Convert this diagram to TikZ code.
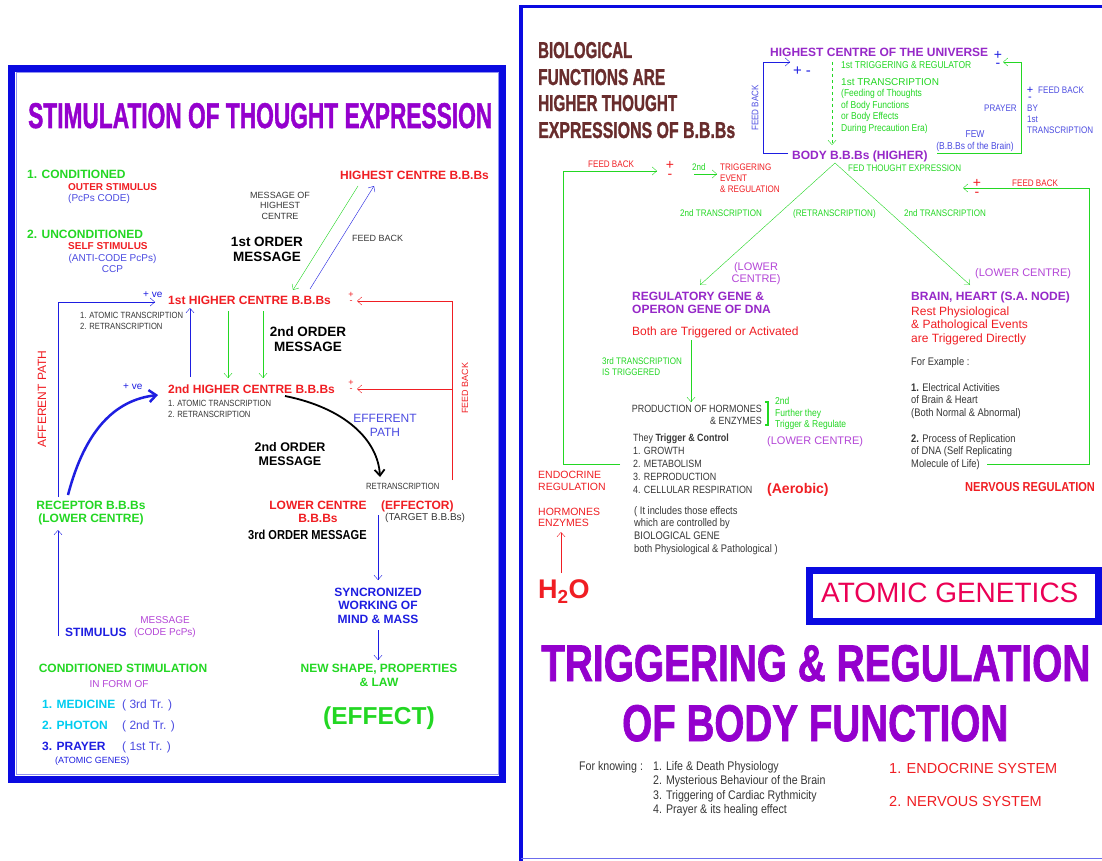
\documentclass[tikz,border=0pt]{standalone}
\usepackage{fontspec}
\usepackage{graphicx}
\setmainfont{Liberation Sans}
\newfontfamily\condfont[FakeStretch=0.85]{Liberation Sans}
\newfontfamily\heavyfont[FakeBold=1.6]{Liberation Sans}
\usetikzlibrary{arrows.meta}
\definecolor{tpurple}{RGB}{148,0,205}
\definecolor{lpurple}{RGB}{150,40,200}
\definecolor{mpurple}{RGB}{180,70,215}
\definecolor{tred}{RGB}{240,30,35}
\definecolor{tgreen}{RGB}{35,215,35}
\definecolor{tblue}{RGB}{30,30,225}
\definecolor{lblue}{RGB}{75,75,225}
\definecolor{tcyan}{RGB}{0,205,240}
\definecolor{tgray}{RGB}{55,55,55}
\definecolor{tbrown}{RGB}{105,45,45}
\definecolor{tpink}{RGB}{235,0,85}
\definecolor{fblue}{RGB}{10,10,225}
\newcommand{\fsz}[2]{\fontsize{#1}{#2}\selectfont}
\newcommand{\fitto}[3]{\resizebox{#1pt}{#2pt}{\heavyfont\bfseries #3}}
\tikzset{
  every node/.style={inner sep=0pt},
  arr/.style={-{Straight Barb[length=4.5pt,width=8pt]}},
  bl/.style={font=\fsz{12}{13.5}\bfseries},
  sm/.style={font=\fsz{9}{10.5}},
  smc/.style={font=\condfont\fsz{9}{11}},
  rc/.style={font=\condfont\fsz{9.5}{11}},
  gc/.style={font=\condfont\fsz{10.5}{13}, text=tgray},
  pm/.style={align=center, anchor=base, font=\fsz{14}{9}},
  pms/.style={align=center, anchor=base, font=\fsz{9}{6}}
}
\begin{document}
\begin{tikzpicture}[x=1pt,y=-1pt]
\useasboundingbox (0,0) rectangle (1102,861);
\fill[white] (0,0) rectangle (1102,861);

\draw[fblue, line width=7] (11.5,68.5) rectangle (502.5,779);
\draw[fblue!45, line width=1] (16,73) rectangle (498,774.5);
\node[anchor=base west, text=tpurple] (title) at (28,128) {\fitto{464}{25}{STIMULATION OF THOUGHT EXPRESSION}};

\node[bl, anchor=base west, text=tgreen] (cond) at (27,178.3) {1. CONDITIONED};
\node[anchor=base west, text=tred, font=\fsz{10}{12}\bfseries] (outer) at (68,190.6) {OUTER STIMULUS};
\node[anchor=base west, text=lblue, font=\fsz{10}{12}] (pcps) at (68,201.6) {(PcPs CODE)};
\node[bl, anchor=base west, text=tgreen] (uncond) at (27,238.3) {2. UNCONDITIONED};
\node[anchor=base west, text=tred, font=\fsz{10}{12}\bfseries] (self) at (68,249.6) {SELF STIMULUS};
\node[anchor=base, align=center, text=lblue, font=\fsz{10}{11}] (anti) at (112.5,272.6) {(ANTI-CODE PcPs)\\CCP};

\node[bl, anchor=base west, text=tred] (highest) at (340,179.3) {HIGHEST CENTRE B.B.Bs};
\node[sm, anchor=base, align=center, text=tgray] (mohc) at (280,219.2) {MESSAGE OF\\HIGHEST\\CENTRE};
\node[anchor=base, align=center, font=\fsz{13.5}{15}\bfseries] (ord1) at (267,261.8) {1st ORDER\\MESSAGE};
\node[sm, anchor=base west, text=tgray] (fb1) at (352,241.2) {FEED BACK};
\coordinate (hcL) at (358,186);
\coordinate (hcR) at (374,186);
\coordinate (hc1L) at (293,290);
\coordinate (hc1R) at (310,289);
\draw[tgreen, arr] (hcL) -- (hc1L);
\draw[tblue, arr] (hc1R) -- (hcR);

\node[bl, anchor=base west, text=tred] (hc1) at (168,304.3) {1st HIGHER CENTRE B.B.Bs};
\node[anchor=base west, text=tblue, font=\fsz{10}{12}] (ve1) at (143,297.6) {+ ve};
\node[smc, anchor=base west, align=left, text=tgray] (at1) at (80,329.2) {1. ATOMIC TRANSCRIPTION\\2. RETRANSCRIPTION};
\node[pms, text=tred] (pm1) at (351,303) {+\\-};
\coordinate (upA) at (190,377);
\coordinate (upB) at (190,308);
\coordinate (dnA) at (228,311);
\coordinate (dnB) at (228,378);
\coordinate (dnC) at (263,311);
\coordinate (dnD) at (263,378);
\draw[tblue, arr] (upA) -- (upB);
\draw[tgreen, arr] (dnA) -- (dnB);
\draw[tgreen, arr] (dnC) -- (dnD);
\node[anchor=base, align=center, font=\fsz{13.5}{15}\bfseries] (ord2) at (308,351.8) {2nd ORDER\\MESSAGE};

\node[bl, anchor=base west, text=tred] (hc2) at (168,393.3) {2nd HIGHER CENTRE B.B.Bs};
\node[anchor=base west, text=tblue, font=\fsz{10}{12}] (ve2) at (123,389.6) {+ ve};
\node[smc, anchor=base west, align=left, text=tgray] (at2) at (168,417.2) {1. ATOMIC TRANSCRIPTION\\2. RETRANSCRIPTION};
\node[pms, text=tred] (pm2) at (351,391) {+\\-};

\coordinate (fbBot) at (452,480);
\coordinate (fbTop) at (452,301);
\coordinate (fbIn1) at (357,301);
\coordinate (fbMid) at (452,389);
\coordinate (fbIn2) at (357,389);
\draw[tred, arr] (fbBot) -- (fbTop) -- (fbIn1);
\draw[tred, arr] (fbMid) -- (fbIn2);
\node[sm, rotate=90, text=tred] (fbv) at (465,388) {FEED BACK};
\node[rotate=90, text=tred, font=\fsz{12}{14}] (aff) at (42,399) {AFFERENT PATH};

\coordinate (afBot) at (58,497);
\coordinate (afTop) at (58,302);
\coordinate (afEnd) at (155,302);
\draw[tblue, arr] (afBot) -- (afTop) -- (afEnd);
\coordinate (rcCurve) at (68,495);
\coordinate (hc2In) at (158,395);
\draw[tblue, line width=2.5, -{Straight Barb[length=7pt,width=12pt]}] (rcCurve) .. controls (85,430) and (115,400) .. (hc2In);
\coordinate (hc2Out) at (285,396);
\coordinate (effIn) at (380,477);
\draw[black, line width=1.8, -{Straight Barb[length=6pt,width=10pt]}] (hc2Out) .. controls (345,408) and (378,440) .. (effIn);
\node[anchor=base, align=center, text=lblue, font=\fsz{12}{14}] (effp) at (385,436.3) {EFFERENT\\PATH};
\node[anchor=base, align=center, font=\fsz{12.5}{14}\bfseries] (ord2b) at (290,465.5) {2nd ORDER\\MESSAGE};
\node[smc, anchor=base west, text=tgray] (retr) at (366,489.2) {RETRANSCRIPTION};

\node[bl, anchor=base, align=center, text=tgreen] (recep) at (91,522.8) {RECEPTOR B.B.Bs\\(LOWER CENTRE)};
\node[bl, anchor=base, align=center, text=tred] (lower) at (318,522.8) {LOWER CENTRE\\B.B.Bs};
\node[bl, anchor=base west, text=tred] (effector) at (381,509.3) {(EFFECTOR)};
\node[anchor=base west, text=tgray, font=\fsz{10}{12}] (target) at (385,520.6) {(TARGET B.B.Bs)};
\node[anchor=base west, font=\condfont\fsz{13}{15}\bfseries] (ord3) at (248,539.7) {3rd ORDER MESSAGE};
\coordinate (effA) at (378,515);
\coordinate (effB) at (378,580);
\coordinate (synA) at (378,630);
\coordinate (synB) at (378,660);
\draw[tblue, arr] (effA) -- (effB);
\draw[tblue, arr] (synA) -- (synB);
\node[bl, anchor=base, align=center, text=tblue] (sync) at (378,623.3) {SYNCRONIZED\\WORKING OF\\MIND \& MASS};
\node[bl, anchor=base, align=center, text=tgreen, font=\fsz{12}{14}\bfseries] (newshape) at (379,686.3) {NEW SHAPE, PROPERTIES\\\& LAW};
\node[anchor=base, text=tgreen, font=\fsz{24.5}{28}\bfseries] (effect) at (379,724.8) {(EFFECT)};

\coordinate (stA) at (58,636);
\coordinate (stB) at (58,530);
\draw[tblue, arr] (stA) -- (stB);
\node[bl, anchor=base west, text=tblue] (stim) at (65,636.3) {STIMULUS};
\node[anchor=base, align=center, text=mpurple, font=\fsz{10}{12}] (msgcode) at (165,635.6) {MESSAGE\\(CODE PcPs)};
\node[bl, anchor=base, text=tgreen] (cstim) at (123,672.3) {CONDITIONED STIMULATION};
\node[anchor=base, text=mpurple, font=\fsz{10}{12}] (inform) at (119,687.6) {IN FORM OF};
\node[bl, anchor=base west, text=tcyan] (med) at (42,708.3) {1. MEDICINE};
\node[anchor=base west, text=lblue, font=\fsz{12}{14}] (tr3) at (122,708.3) {( 3rd Tr. )};
\node[bl, anchor=base west, text=tcyan] (phot) at (42,729.3) {2. PHOTON};
\node[anchor=base west, text=lblue, font=\fsz{12}{14}] (tr2) at (122,729.3) {( 2nd Tr. )};
\node[bl, anchor=base west, text=tblue] (pray) at (42,750.3) {3. PRAYER};
\node[anchor=base west, text=lblue, font=\fsz{12}{14}] (tr1) at (122,750.3) {( 1st Tr. )};
\node[sm, anchor=base west, text=tblue] (agenes) at (55,763.2) {(ATOMIC GENES)};

\draw[fblue, line width=4] (521,861) -- (521,5);
\draw[fblue, line width=3] (519,6.5) -- (1102,6.5);
\draw[fblue!60, line width=1.5] (521,858.5) -- (1102,858.5);

\node[anchor=base west, text=tbrown] (bio1) at (538,58) {\fitto{94}{16}{BIOLOGICAL}};
\node[anchor=base west, text=tbrown] (bio2) at (538,85) {\fitto{127}{16}{FUNCTIONS ARE}};
\node[anchor=base west, text=tbrown] (bio3) at (538,111) {\fitto{139}{16}{HIGHER THOUGHT}};
\node[anchor=base west, text=tbrown] (bio4) at (538,138) {\fitto{197}{16}{EXPRESSIONS OF B.B.Bs}};

\node[bl, anchor=base west, text=lpurple] (univ) at (770,56.3) {HIGHEST CENTRE OF THE UNIVERSE};
\node[bl, anchor=base west, text=lpurple] (body) at (792,159.3) {BODY B.B.Bs (HIGHER)};
\coordinate (bodyL) at (788,153);
\coordinate (bfCorner1) at (763,153);
\coordinate (bfCorner2) at (763,62);
\coordinate (univIn) at (790,62);
\draw[tblue, arr] (bodyL) -- (bfCorner1) -- (bfCorner2) -- (univIn);
\node[anchor=base, text=tblue, font=\fsz{15}{17}] (pmh) at (802,76) {+ -};
\node[rc, rotate=90, text=lblue] (fbblue) at (755,108) {FEED BACK};
\coordinate (trigA) at (832,62);
\coordinate (trigB) at (832,145);
\draw[tgreen, dashed, arr] (trigA) -- (trigB);
\node[anchor=base west, text=tgreen, font=\condfont\fsz{10}{12}] (trig1) at (841,68.6) {1st TRIGGERING \& REGULATOR};
\node[anchor=base west, text=tgreen, font=\fsz{10}{12}] (trans1) at (841,85.6) {1st TRANSCRIPTION};
\node[anchor=base west, align=left, text=tgreen, font=\condfont\fsz{10}{11.5}] (feed) at (841,131.1) {(Feeding of Thoughts\\of Body Functions\\or Body Effects\\During Precaution Era)};
\node[rc, anchor=base west, text=lblue] (prayer) at (984,111.4) {PRAYER};
\node[anchor=base, align=center, text=lblue, font=\condfont\fsz{10}{11.5}] (few) at (975,149.1) {FEW\\(B.B.Bs of the Brain)};
\node[pm, text=tblue, font=\fsz{14}{8}] (pmu) at (998,67.6) {+\\-};
\coordinate (bodyR) at (937,153);
\coordinate (gfCorner1) at (1021,153);
\coordinate (gfCorner2) at (1021,62);
\coordinate (univInR) at (1003,62);
\draw[tgreen, arr] (bodyR) -- (gfCorner1) -- (gfCorner2) -- (univInR);
\node[pm, text=tblue, font=\fsz{11}{7}] (pmfb) at (1030,100.6) {+\\-};
\node[rc, anchor=base west, text=lblue] (fbby) at (1038,93.4) {FEED BACK};
\node[rc, anchor=base west, align=left, text=lblue] (by1) at (1027,133.4) {BY\\1st\\TRANSCRIPTION};
\node[rc, anchor=base west, text=tgreen] (fed) at (848,171.4) {FED THOUGHT EXPRESSION};

\coordinate (apex) at (835,163);
\coordinate (regIn) at (700,285);
\coordinate (brainIn) at (970,285);
\draw[tgreen, arr] (apex) -- (regIn);
\draw[tgreen, arr] (apex) -- (brainIn);
\node[rc, anchor=base west, text=tgreen] (tr2a) at (680,216.4) {2nd TRANSCRIPTION};
\node[rc, anchor=base west, text=tgreen] (retr2) at (793,216.4) {(RETRANSCRIPTION)};
\node[rc, anchor=base west, text=tgreen] (tr2b) at (904,216.4) {2nd TRANSCRIPTION};

\node[rc, anchor=base west, text=tred] (fbred1) at (588,167.4) {FEED BACK};
\coordinate (prodL) at (620,464);
\coordinate (efCorner1) at (563,464);
\coordinate (efCorner2) at (563,171);
\coordinate (efIn) at (657,171);
\draw[tgreen, arr] (prodL) -- (efCorner1) -- (efCorner2) -- (efIn);
\node[pm, text=tred] (pmr1) at (670,178.6) {+\\-};
\node[rc, anchor=base west, text=tgreen] (snd) at (692,170.4) {2nd};
\coordinate (sndA) at (694,174);
\coordinate (sndB) at (717,174);
\draw[tgreen, arr] (sndA) -- (sndB);
\node[rc, anchor=base west, align=left, text=tred] (trigev) at (720,192.4) {TRIGGERING\\EVENT\\\& REGULATION};

\node[pm, text=tred] (pmr2) at (977,196.6) {+\\-};
\node[rc, anchor=base west, text=tred] (fbred2) at (1012,186.4) {FEED BACK};
\coordinate (nrvR) at (987,464);
\coordinate (nfCorner1) at (1089,464);
\coordinate (nfCorner2) at (1089,188);
\coordinate (nfIn) at (963,188);
\draw[tgreen, arr] (nrvR) -- (nfCorner1) -- (nfCorner2) -- (nfIn);

\node[anchor=base, align=center, text=mpurple, font=\fsz{11}{12}] (lowc1) at (756,282.9) {(LOWER\\CENTRE)};
\node[anchor=base west, text=mpurple, font=\fsz{11}{12}] (lowc2) at (975,276.9) {(LOWER CENTRE)};
\node[bl, anchor=base west, align=left, text=lpurple, font=\fsz{12}{13}\bfseries] (reggene) at (632,313.3) {REGULATORY GENE \&\\OPERON GENE OF DNA};
\node[bl, anchor=base west, text=lpurple] (brain) at (911,300.3) {BRAIN, HEART (S.A. NODE)};
\node[anchor=base west, text=tred, font=\fsz{12}{14}] (both) at (632,335.8) {Both are Triggered or Activated};
\node[anchor=base west, align=left, text=tred, font=\fsz{12}{13.5}] (rest) at (911,342.3) {Rest Physiological\\\& Pathological Events\\are Triggered Directly};
\coordinate (bothA) at (691,340);
\coordinate (bothB) at (691,402);
\draw[tgreen, arr] (bothA) -- (bothB);
\node[rc, anchor=base west, align=left, text=tgreen] (tr3t) at (602,375.4) {3rd TRANSCRIPTION\\IS TRIGGERED};
\node[gc, anchor=base east, align=right, font=\condfont\fsz{10.5}{12}] (prod) at (762,424.8) {PRODUCTION OF HORMONES\\\& ENZYMES};
\coordinate (brA) at (765,402);
\coordinate (brB) at (768,402);
\coordinate (brC) at (768,425);
\coordinate (brD) at (765,425);
\draw[tgreen, line width=1.5] (brA) -- (brB) -- (brC) -- (brD);
\node[anchor=base west, align=left, text=tgreen, font=\condfont\fsz{10}{11.5}] (further) at (775,427.6) {2nd\\Further they\\Trigger \& Regulate};
\node[anchor=base west, text=mpurple, font=\fsz{11}{12}] (lowc3) at (767,444.9) {(LOWER CENTRE)};
\node[gc, anchor=base west, align=left] (they) at (633,493.8) {They \textbf{Trigger \& Control}\\1. GROWTH\\2. METABOLISM\\3. REPRODUCTION\\4. CELLULAR RESPIRATION};
\node[anchor=base west, text=tred, font=\fsz{14}{16}\bfseries] (aerobic) at (767,493) {(Aerobic)};
\node[anchor=base west, align=left, text=tred, font=\fsz{10.5}{12}] (endoreg) at (538,490.8) {ENDOCRINE\\REGULATION};
\node[anchor=base west, align=left, text=tred, font=\fsz{10.5}{11}] (horm) at (538,526.8) {HORMONES\\ENZYMES};
\coordinate (waterTop) at (561,573);
\coordinate (hormBot) at (561,532);
\draw[tred, arr] (waterTop) -- (hormBot);
\node[gc, anchor=base west, align=left, font=\condfont\fsz{11}{12.7}] (incl) at (634,552.1) {( It includes those effects\\which are controlled by\\BIOLOGICAL GENE\\both Physiological \& Pathological )};
\node[anchor=base west, text=tred, font=\fsz{27}{30}\bfseries] (water) at (538,598.7) {H\textsubscript{2}O};

\node[gc, anchor=base west, font=\condfont\fsz{11}{12.8}] (forex) at (911,365.9) {For Example :};
\node[gc, anchor=base west, align=left, font=\condfont\fsz{11}{12.8}] (ex1) at (911,416.6) {\textbf{1.} Electrical Activities\\of Brain \& Heart\\(Both Normal \& Abnormal)};
\node[gc, anchor=base west, align=left, font=\condfont\fsz{11}{12.8}] (ex2) at (911,467.6) {\textbf{2.} Process of Replication\\of DNA (Self Replicating\\Molecule of Life)};
\node[anchor=base west, text=tred, font=\condfont\fsz{13}{15}\bfseries] (nervreg) at (965,491.7) {NERVOUS REGULATION};

\draw[fblue, line width=7] (809.5,570.5) rectangle (1098.5,621.5);
\node[anchor=base west, text=tpink, font=\fsz{28}{30}] (atomic) at (821,602) {ATOMIC GENETICS};
\node[anchor=base west, text=tpurple] (trigreg) at (541,681) {\fitto{549}{36}{TRIGGERING \& REGULATION}};
\node[anchor=base west, text=tpurple] (bodyfn) at (622,741) {\fitto{386}{36}{OF BODY FUNCTION}};
\node[anchor=base west, text=tgray, font=\condfont\fsz{12.5}{14.4}] (know) at (579,770.5) {For knowing :};
\node[anchor=base west, align=left, text=tgray, font=\condfont\fsz{12.5}{14.4}] (knowlist) at (653,813.7) {1. Life \& Death Physiology\\2. Mysterious Behaviour of the Brain\\3. Triggering of Cardiac Rythmicity\\4. Prayer \& its healing effect};
\node[anchor=base west, text=tred, font=\fsz{14.5}{16}] (endosys) at (889,773.2) {1. ENDOCRINE SYSTEM};
\node[anchor=base west, text=tred, font=\fsz{14.5}{16}] (nervsys) at (889,806) {2. NERVOUS SYSTEM};
\end{tikzpicture}
\end{document}
